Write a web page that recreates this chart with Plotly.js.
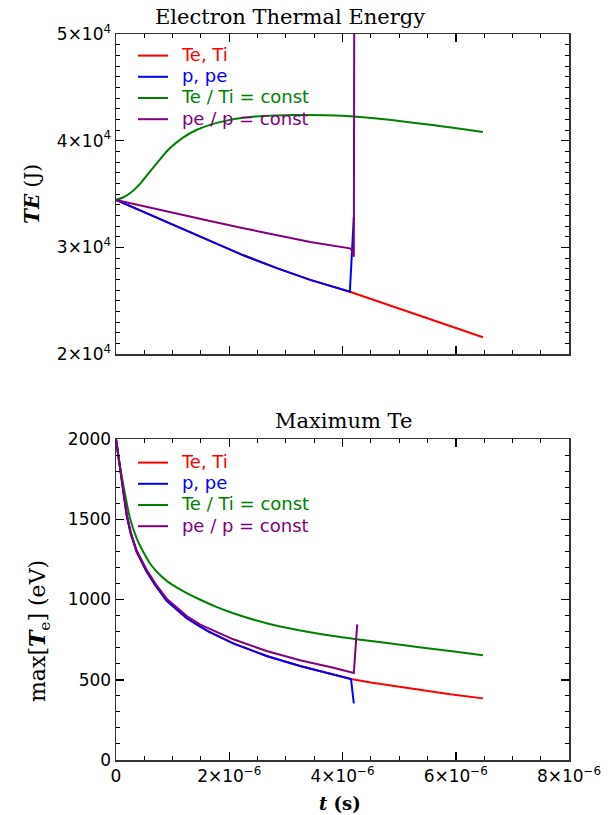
<!DOCTYPE html>
<html><head><meta charset="utf-8">
<script src="https://cdn.plot.ly/plotly-3.0.1.min.js"></script>
<style>html,body{margin:0;padding:0;background:#fff}</style>
</head><body><div id="chart" style="width:614px;height:815px"></div>
<script>
// ---------- Top panel: Electron Thermal Energy (J) ----------
const topRedT  = [0, 0.48e-6, 1.07e-6, 1.66e-6, 2.25e-6, 2.84e-6, 3.43e-6, 4.13e-6, 4.6e-6, 5.02e-6, 5.5e-6, 5.9e-6, 6.48e-6];
const topRedTE = [34450, 33341, 31916, 30547, 29253, 28053, 26947, 25841, 25000, 24200, 23350, 22650, 21566];

const topBlueT  = [0, 0.48e-6, 1.07e-6, 1.66e-6, 2.25e-6, 2.84e-6, 3.43e-6, 4.13e-6, 4.2e-6];
const topBlueTE = [34450, 33341, 31916, 30547, 29253, 28053, 26947, 25841, 32870];

const topGreenT  = [0, 0.124e-6, 0.247e-6, 0.365e-6, 0.48e-6, 0.6e-6, 0.72e-6, 0.95e-6, 1.19e-6, 1.42e-6, 1.66e-6, 1.95e-6, 2.25e-6, 2.54e-6, 2.84e-6, 3.13e-6, 3.72e-6, 4.25e-6, 4.96e-6, 5.55e-6, 6.48e-6];
const topGreenTE = [34456, 34672, 35066, 35620, 36313, 37100, 37878, 39284, 40316, 41000, 41480, 41880, 42150, 42300, 42370, 42400, 42378, 42247, 41872, 41497, 40813];

const topPurpleT  = [0, 0.48e-6, 1.07e-6, 1.66e-6, 2.25e-6, 2.84e-6, 3.43e-6, 4.13e-6, 4.16e-6, 4.2e-6, 4.21e-6];
const topPurpleTE = [34450, 33864, 33161, 32467, 31792, 31136, 30498, 29906, 29750, 29122, 60000];

// ---------- Bottom panel: Maximum Te (eV) ----------
const botRedT = [0, 0.07e-6, 0.11e-6, 0.15e-6, 0.19e-6, 0.26e-6, 0.365e-6, 0.54e-6, 0.69e-6, 0.9e-6, 1.25e-6, 1.48e-6, 1.63e-6, 2.07e-6, 2.66e-6, 3.25e-6, 3.84e-6, 4.15e-6, 4.5e-6, 5.02e-6, 5.31e-6, 5.9e-6, 6.48e-6];
const botRedV = [2000, 1811, 1711, 1612, 1522, 1412, 1297, 1175, 1090, 990, 883, 832, 802, 727, 648, 586, 534, 505, 483, 454, 440, 409, 384];

const botBlueT = [0, 0.07e-6, 0.11e-6, 0.15e-6, 0.19e-6, 0.26e-6, 0.365e-6, 0.54e-6, 0.69e-6, 0.9e-6, 1.25e-6, 1.48e-6, 1.63e-6, 2.07e-6, 2.66e-6, 3.25e-6, 3.84e-6, 4.15e-6, 4.2e-6];
const botBlueV = [2000, 1811, 1711, 1612, 1522, 1412, 1297, 1175, 1090, 990, 883, 832, 802, 727, 648, 586, 534, 505, 353];

const botGreenT = [0, 0.07e-6, 0.13e-6, 0.19e-6, 0.247e-6, 0.365e-6, 0.48e-6, 0.62e-6, 0.777e-6, 0.92e-6, 1.07e-6, 1.25e-6, 1.48e-6, 1.75e-6, 2.07e-6, 2.66e-6, 3.25e-6, 3.84e-6, 4.25e-6, 5.02e-6, 5.9e-6, 6.48e-6];
const botGreenV = [2000, 1830, 1713, 1600, 1506, 1381, 1298, 1215, 1153, 1110, 1075, 1040, 1000, 957, 914, 852, 807, 773, 753, 718, 679, 652];

const botPurpleT = [0, 0.07e-6, 0.11e-6, 0.15e-6, 0.19e-6, 0.26e-6, 0.365e-6, 0.54e-6, 0.69e-6, 0.9e-6, 1.25e-6, 1.48e-6, 2.07e-6, 2.66e-6, 3.25e-6, 3.84e-6, 4.15e-6, 4.2e-6, 4.26e-6];
const botPurpleV = [2000, 1815, 1716, 1618, 1530, 1420, 1305, 1185, 1102, 1003, 897, 845, 752, 679, 622, 575, 549, 542, 845];

// ---------- labels / axis steps ----------
const seriesNames = ['Te, Ti', 'p, pe', 'Te / Ti = const', 'pe / p = const'];
const seriesColors = ['#ff0000', '#0000ff', '#008000', '#800080'];
const xRange = [0, 8e-6], xMajor = 2e-6, xMinor = 0.5e-6;
const yTopRange = [20000, 50000], yTopMajor = 10000, yTopMinor = 1000;
const yBotRange = [0, 2000], yBotMajor = 500, yBotMinor = 100;

function nm(i){
  return '\u00a0\u00a0<span style="color:' + seriesColors[i] + ';font-size:18px">' + seriesNames[i] + '</span>';
}
function tr(x, y, i, xa, ya, lg, shape){
  return {x: x, y: y, type: 'scatter', mode: 'lines', name: nm(i),
    line: {color: seriesColors[i], width: 2, shape: shape || 'linear'}, xaxis: xa, yaxis: ya, legend: lg, hoverinfo: 'skip'};
}

const data = [
  tr(topRedT, topRedTE, 0, 'x', 'y', 'legend'),
  tr(topBlueT, topBlueTE, 1, 'x', 'y', 'legend'),
  tr(topGreenT, topGreenTE, 2, 'x', 'y', 'legend', 'spline'),
  tr(topPurpleT, topPurpleTE, 3, 'x', 'y', 'legend'),
  tr(botRedT, botRedV, 0, 'x2', 'y2', 'legend2'),
  tr(botBlueT, botBlueV, 1, 'x2', 'y2', 'legend2'),
  tr(botGreenT, botGreenV, 2, 'x2', 'y2', 'legend2', 'spline'),
  tr(botPurpleT, botPurpleV, 3, 'x2', 'y2', 'legend2')
];

const tickFont = {family: 'DejaVu Sans', size: 17, color: '#000'};
function ax(range, major, minorStep, extra){
  const o = {
    range: range, tickmode: 'linear', tick0: range[0], dtick: major,
    showline: true, linecolor: '#333', linewidth: 1.5, mirror: 'ticks',
    ticks: 'inside', ticklen: 8, tickwidth: 1.5, tickcolor: '#000',
    showgrid: false, zeroline: false, tickfont: tickFont,
    minor: {dtick: minorStep, ticks: 'inside', ticklen: 4, tickwidth: 1, tickcolor: '#000'}
  };
  return Object.assign(o, extra);
}

const W = 614, H = 815, ML = 116, MR = 45, MT = 34, MB = 55;
const PW = W - ML - MR, PH = H - MT - MB;
const px = v => (v - ML) / PW;
const py = v => (H - MB - v) / PH;

const legendBase = {xanchor: 'left', yanchor: 'top', bgcolor: 'rgba(0,0,0,0)', borderwidth: 0,
  font: {family: 'DejaVu Sans', size: 14}, tracegroupgap: 0, itemclick: false};

const layout = {
  width: W, height: H,
  margin: {l: ML, r: MR, t: MT, b: MB},
  paper_bgcolor: '#fff', plot_bgcolor: '#fff',
  showlegend: true,
  xaxis: ax(xRange, xMajor, xMinor, {domain: [0, 1], anchor: 'y', showticklabels: false}),
  yaxis: ax(yTopRange, yTopMajor, yTopMinor, {domain: [py(354), 1], anchor: 'x', exponentformat: 'power', showexponent: 'all'}),
  xaxis2: ax(xRange, xMajor, xMinor, {domain: [0, 1], anchor: 'y2', exponentformat: 'power', showexponent: 'all'}),
  yaxis2: ax(yBotRange, yBotMajor, yBotMinor, {domain: [0, py(439)], anchor: 'x2', exponentformat: 'none'}),
  legend: Object.assign({}, legendBase, {x: px(133), y: py(40)}),
  legend2: Object.assign({}, legendBase, {x: px(133), y: py(447)}),
  annotations: [
    {text: 'Electron Thermal Energy', xref: 'paper', yref: 'paper', x: px(290), y: py(17),
      xanchor: 'center', yanchor: 'middle', showarrow: false, font: {family: 'DejaVu Serif', size: 21, color: '#000'}},
    {text: 'Maximum Te', xref: 'paper', yref: 'paper', x: px(343), y: py(421),
      xanchor: 'center', yanchor: 'middle', showarrow: false, font: {family: 'DejaVu Serif', size: 21, color: '#000'}},
    {text: '<b><i>TE</i></b> (J)', xref: 'paper', yref: 'paper', x: px(32), y: py(194), textangle: -90,
      xanchor: 'center', yanchor: 'middle', showarrow: false, font: {family: 'DejaVu Serif', size: 20, color: '#000'}},
    {text: 'max[<i><b>T</b></i><sub>e</sub>] (eV)', xref: 'paper', yref: 'paper', x: px(39), y: py(631), textangle: -90,
      xanchor: 'center', yanchor: 'middle', showarrow: false, font: {family: 'DejaVu Serif', size: 22, color: '#000'}},
    {text: '<b><i>t</i> (s)</b>', xref: 'paper', yref: 'paper', x: px(340), y: py(803),
      xanchor: 'center', yanchor: 'middle', showarrow: false, font: {family: 'DejaVu Serif', size: 18, color: '#000'}}
  ]
};

Plotly.newPlot('chart', data, layout, {staticPlot: true, displayModeBar: false});
</script></body></html>
